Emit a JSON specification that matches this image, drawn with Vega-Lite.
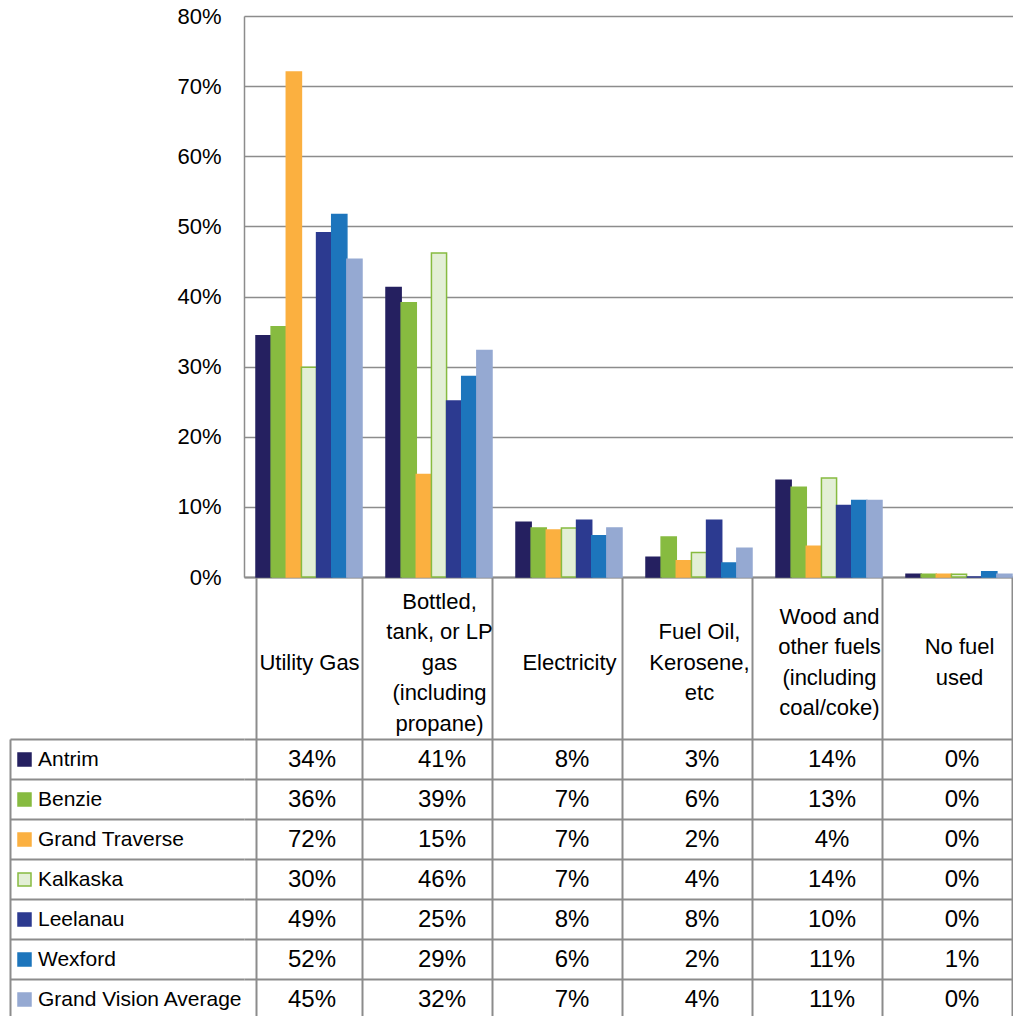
{
  "$schema": "https://vega.github.io/schema/vega-lite/v6.json",
  "padding": {"left": 9, "top": 5, "right": 0, "bottom": 0},
  "background": "white",
  "config": {"view": {"stroke": null}, "font": "Liberation Sans"},
  "datasets": {
    "fuel": [
      {"category": "Utility Gas", "series": "Antrim", "value": 0.344},
      {"category": "Utility Gas", "series": "Benzie", "value": 0.357},
      {"category": "Utility Gas", "series": "Grand Traverse", "value": 0.720},
      {"category": "Utility Gas", "series": "Kalkaska", "value": 0.299},
      {"category": "Utility Gas", "series": "Leelanau", "value": 0.491},
      {"category": "Utility Gas", "series": "Wexford", "value": 0.517},
      {"category": "Utility Gas", "series": "Grand Vision Average", "value": 0.453},
      {"category": "Bottled,\ntank, or LP\ngas\n(including\npropane)", "series": "Antrim", "value": 0.413},
      {"category": "Bottled,\ntank, or LP\ngas\n(including\npropane)", "series": "Benzie", "value": 0.391},
      {"category": "Bottled,\ntank, or LP\ngas\n(including\npropane)", "series": "Grand Traverse", "value": 0.146},
      {"category": "Bottled,\ntank, or LP\ngas\n(including\npropane)", "series": "Kalkaska", "value": 0.462},
      {"category": "Bottled,\ntank, or LP\ngas\n(including\npropane)", "series": "Leelanau", "value": 0.251},
      {"category": "Bottled,\ntank, or LP\ngas\n(including\npropane)", "series": "Wexford", "value": 0.286},
      {"category": "Bottled,\ntank, or LP\ngas\n(including\npropane)", "series": "Grand Vision Average", "value": 0.323},
      {"category": "Electricity", "series": "Antrim", "value": 0.078},
      {"category": "Electricity", "series": "Benzie", "value": 0.070},
      {"category": "Electricity", "series": "Grand Traverse", "value": 0.067},
      {"category": "Electricity", "series": "Kalkaska", "value": 0.070},
      {"category": "Electricity", "series": "Leelanau", "value": 0.081},
      {"category": "Electricity", "series": "Wexford", "value": 0.059},
      {"category": "Electricity", "series": "Grand Vision Average", "value": 0.070},
      {"category": "Fuel Oil,\nKerosene,\netc", "series": "Antrim", "value": 0.028},
      {"category": "Fuel Oil,\nKerosene,\netc", "series": "Benzie", "value": 0.057},
      {"category": "Fuel Oil,\nKerosene,\netc", "series": "Grand Traverse", "value": 0.023},
      {"category": "Fuel Oil,\nKerosene,\netc", "series": "Kalkaska", "value": 0.035},
      {"category": "Fuel Oil,\nKerosene,\netc", "series": "Leelanau", "value": 0.081},
      {"category": "Fuel Oil,\nKerosene,\netc", "series": "Wexford", "value": 0.020},
      {"category": "Fuel Oil,\nKerosene,\netc", "series": "Grand Vision Average", "value": 0.041},
      {"category": "Wood and\nother fuels\n(including\ncoal/coke)", "series": "Antrim", "value": 0.138},
      {"category": "Wood and\nother fuels\n(including\ncoal/coke)", "series": "Benzie", "value": 0.128},
      {"category": "Wood and\nother fuels\n(including\ncoal/coke)", "series": "Grand Traverse", "value": 0.044},
      {"category": "Wood and\nother fuels\n(including\ncoal/coke)", "series": "Kalkaska", "value": 0.141},
      {"category": "Wood and\nother fuels\n(including\ncoal/coke)", "series": "Leelanau", "value": 0.102},
      {"category": "Wood and\nother fuels\n(including\ncoal/coke)", "series": "Wexford", "value": 0.109},
      {"category": "Wood and\nother fuels\n(including\ncoal/coke)", "series": "Grand Vision Average", "value": 0.109},
      {"category": "No fuel\nused", "series": "Antrim", "value": 0.004},
      {"category": "No fuel\nused", "series": "Benzie", "value": 0.004},
      {"category": "No fuel\nused", "series": "Grand Traverse", "value": 0.004},
      {"category": "No fuel\nused", "series": "Kalkaska", "value": 0.004},
      {"category": "No fuel\nused", "series": "Leelanau", "value": 0.0},
      {"category": "No fuel\nused", "series": "Wexford", "value": 0.0076},
      {"category": "No fuel\nused", "series": "Grand Vision Average", "value": 0.004}
    ]
  },
  "bounds": "flush",
  "spacing": 162,
  "vconcat": [
    {
      "width": 780,
      "height": 561,
      "data": {"name": "fuel"},
      "mark": {"type": "bar", "strokeWidth": 1.5},
      "encoding": {
        "x": {
          "field": "category", "type": "nominal",
          "sort": ["Utility Gas", "Bottled,\ntank, or LP\ngas\n(including\npropane)", "Electricity", "Fuel Oil,\nKerosene,\netc", "Wood and\nother fuels\n(including\ncoal/coke)", "No fuel\nused"],
          "scale": {"paddingInner": 0.1846, "paddingOuter": 0.0923},
          "axis": {
            "title": null, "orient": "bottom", "labelAngle": 0,
            "labelExpr": "split(substring('\u2800\\n\u2800\\n', 0, 2 * floor((5 - length(split(datum.label, '\\n'))) / 2)) + datum.label, '\\n')",
            "labelFont": "Liberation Sans", "labelFontSize": 22, "labelLineHeight": 30.5,
            "labelBaseline": {
              "condition": {"test": "length(split(datum.value, '\\n')) % 2 == 0", "value": "line-top"},
              "value": "middle"
            },
            "labelPadding": -138, "labelColor": "#000000", "labelLimit": 0,
            "tickBand": "extent", "tickSize": 162, "tickColor": "#8c8c8c", "tickWidth": 2,
            "domainColor": "#8c8c8c", "domainWidth": 2, "grid": false
          }
        },
        "xOffset": {
          "field": "series", "type": "nominal",
          "sort": ["Antrim", "Benzie", "Grand Traverse", "Kalkaska", "Leelanau", "Wexford", "Grand Vision Average"],
          "scale": {"paddingInner": 0, "paddingOuter": 0}
        },
        "y": {
          "field": "value", "type": "quantitative",
          "scale": {"domain": [0, 0.8]},
          "axis": {
            "title": null, "values": [0, 0.1, 0.2, 0.3, 0.4, 0.5, 0.6, 0.7, 0.8], "format": ".0%",
            "labelFont": "Liberation Sans", "labelFontSize": 22, "labelColor": "#000000", "labelPadding": 23,
            "ticks": false, "domainColor": "#8c8c8c", "domainWidth": 1.5,
            "gridColor": "#8c8c8c", "gridWidth": 1.5
          }
        },
        "fill": {
          "field": "series", "type": "nominal",
          "scale": {
            "domain": ["Antrim", "Benzie", "Grand Traverse", "Kalkaska", "Leelanau", "Wexford", "Grand Vision Average"],
            "range": ["#252060", "#87bb40", "#fbb040", "#e3efd6", "#2c3a90", "#1d75bc", "#95a9d2"]
          },
          "legend": {
            "orient": "none", "legendX": -230, "legendY": 733, "title": null,
            "symbolType": "square", "symbolSize": 169, "symbolStrokeWidth": 1.5,
            "labelFont": "Liberation Sans", "labelFontSize": 21, "labelColor": "#000000",
            "labelOffset": 3, "rowPadding": 18, "labelLimit": 400, "padding": 0
          }
        },
        "stroke": {
          "field": "series", "type": "nominal",
          "scale": {
            "domain": ["Antrim", "Benzie", "Grand Traverse", "Kalkaska", "Leelanau", "Wexford", "Grand Vision Average"],
            "range": ["#252060", "#87bb40", "#fbb040", "#87bb40", "#2c3a90", "#1d75bc", "#95a9d2"]
          },
          "legend": {
            "orient": "none", "legendX": -230, "legendY": 733, "title": null,
            "symbolType": "square", "symbolSize": 169, "symbolStrokeWidth": 1.5,
            "labelFont": "Liberation Sans", "labelFontSize": 21, "labelColor": "#000000",
            "labelOffset": 3, "rowPadding": 18, "labelLimit": 400, "padding": 0
          }
        }
      }
    },
    {
      "width": 780,
      "height": 280,
      "data": {"name": "fuel"},
      "mark": {"type": "text", "font": "Liberation Sans", "fontSize": 24, "color": "#000000", "dx": 3, "dy": 1},
      "encoding": {
        "x": {
          "field": "category", "type": "nominal",
          "sort": ["Utility Gas", "Bottled,\ntank, or LP\ngas\n(including\npropane)", "Electricity", "Fuel Oil,\nKerosene,\netc", "Wood and\nother fuels\n(including\ncoal/coke)", "No fuel\nused"],
          "scale": {"paddingInner": 0.1846, "paddingOuter": 0.0923},
          "axis": {
            "title": null, "labels": false, "ticks": false, "domain": false,
            "grid": true, "tickBand": "extent", "gridColor": "#8c8c8c", "gridWidth": 2
          }
        },
        "y": {
          "field": "series", "type": "nominal",
          "sort": ["Antrim", "Benzie", "Grand Traverse", "Kalkaska", "Leelanau", "Wexford", "Grand Vision Average"],
          "scale": {"paddingInner": 0, "paddingOuter": 0},
          "axis": {
            "title": null, "labels": false, "offset": 234,
            "tickBand": "extent", "tickSize": -234, "tickColor": "#8c8c8c", "tickWidth": 2,
            "domainColor": "#8c8c8c", "domainWidth": 2,
            "grid": true, "gridColor": "#8c8c8c", "gridWidth": 2
          }
        },
        "text": {"field": "value", "type": "quantitative", "format": ".0%"}
      }
    }
  ]
}
